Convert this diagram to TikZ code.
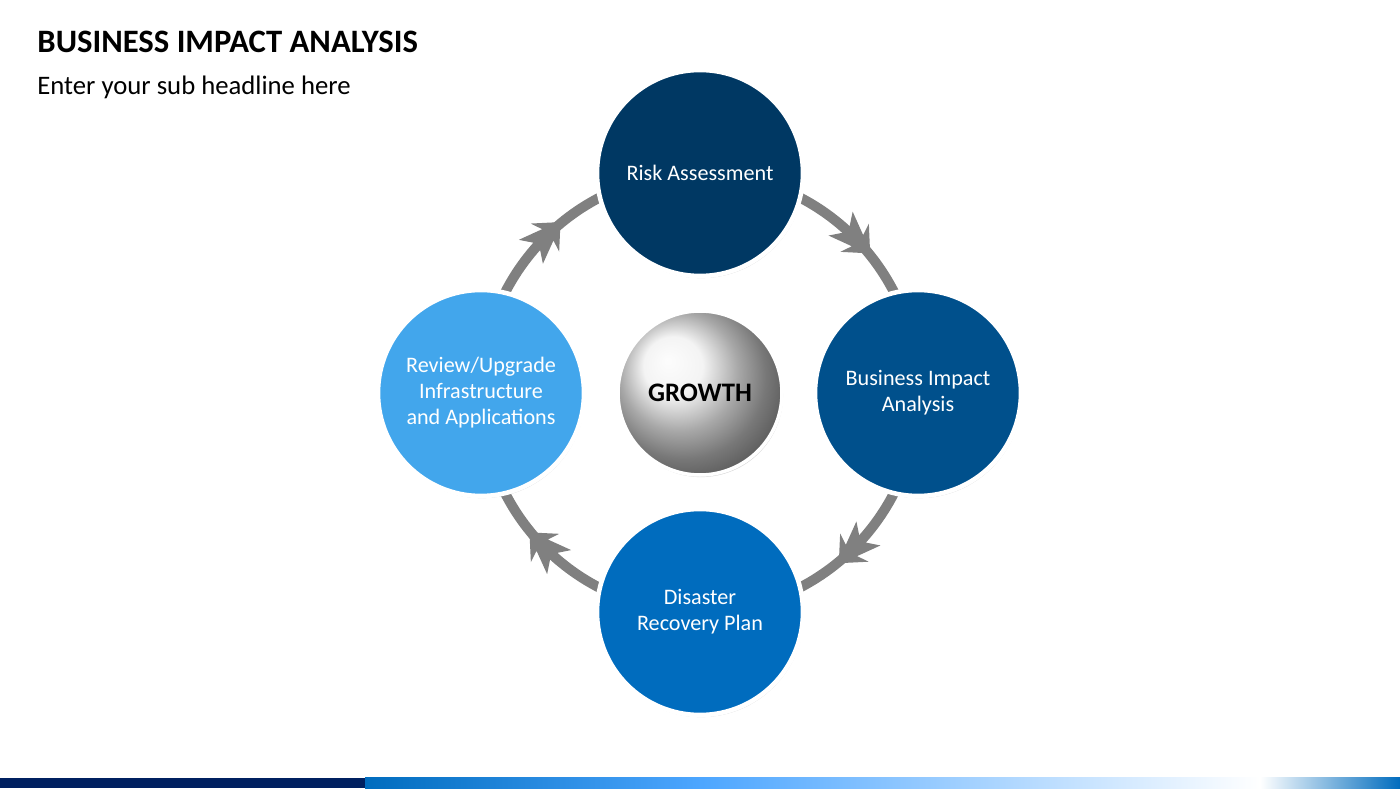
\documentclass[tikz,border=0pt]{standalone}
\usepackage{fontspec}
\setmainfont{Carlito}
\usetikzlibrary{arrows.meta,decorations.markings,shadows}
\definecolor{stepA}{RGB}{0,56,99}
\definecolor{stepB}{RGB}{0,80,140}
\definecolor{stepC}{RGB}{0,108,190}
\definecolor{stepD}{RGB}{66,166,236}
\definecolor{ringgray}{RGB}{128,128,128}
\definecolor{barnavy}{RGB}{0,32,96}
\begin{document}
\begin{tikzpicture}[
    stepnode/.style={circle,draw=white,line width=1.3pt,minimum size=2.06cm,text=white,
      align=center,font=\fontsize{6.3}{7.4}\selectfont,
      drop shadow={shadow xshift=0.3pt,shadow yshift=-0.6pt,opacity=0.35}},
    ring/.style={draw=ringgray,line width=0.1cm,
      postaction={decorate,decoration={markings,mark=at position 0.5 with
        {\fill[ringgray] (0.22,0) -- (0.0,0.2) -- (0.04,0.08) -- (-0.2,0.17) -- (-0.12,0.05)
          -- (-0.12,-0.05) -- (-0.2,-0.17) -- (0.04,-0.08) -- (0.0,-0.2) -- cycle;}}}}]
    \useasboundingbox (0,0) rectangle (14,7.88);

    % title
    \node[anchor=west,font=\fontsize{9.3}{11}\selectfont\bfseries] (title) at (0.25,7.46) {BUSINESS IMPACT ANALYSIS};
    \node[anchor=west,font=\fontsize{7.6}{9}\selectfont] (subtitle) at (0.25,7.01) {Enter your sub headline here};

    % ring
    \coordinate (ctop) at (7,6.15);
    \coordinate (cright) at (9.18,3.95);
    \coordinate (cbottom) at (7,1.76);
    \coordinate (cleft) at (4.81,3.95);
    \draw[ring] (ctop) to[bend left=45] (cright);
    \draw[ring] (cright) to[bend left=45] (cbottom);
    \draw[ring] (cbottom) to[bend left=45] (cleft);
    \draw[ring] (cleft) to[bend left=45] (ctop);

    % steps
    \node[stepnode,fill=stepA] (risk) at (ctop) {Risk Assessment};
    \node[stepnode,fill=stepB] (impact) at (cright) {Business Impact\\Analysis};
    \node[stepnode,fill=stepC] (recovery) at (cbottom) {Disaster\\Recovery Plan};
    \node[stepnode,fill=stepD] (review) at (cleft) {Review/Upgrade\\Infrastructure\\and Applications};

    % centre
    \node[circle,draw=white,line width=1pt,minimum size=1.64cm,ball color=gray!12,
      font=\fontsize{7.6}{9}\selectfont\bfseries,
      drop shadow={shadow xshift=0.3pt,shadow yshift=-0.6pt,opacity=0.3}] (growth) at (7,3.95) {GROWTH};

    % bottom bar
    \fill[barnavy] (0,0) rectangle (3.65,0.1);
    \shade[left color=stepC,right color=cyan!50!blue!70] (3.65,0) rectangle (7,0.1);
    \shade[left color=cyan!50!blue!70,right color=white] (7,0) rectangle (12.6,0.1);
    \shade[left color=white,right color=stepC] (12.6,0) rectangle (14,0.1);
\end{tikzpicture}
\end{document}
